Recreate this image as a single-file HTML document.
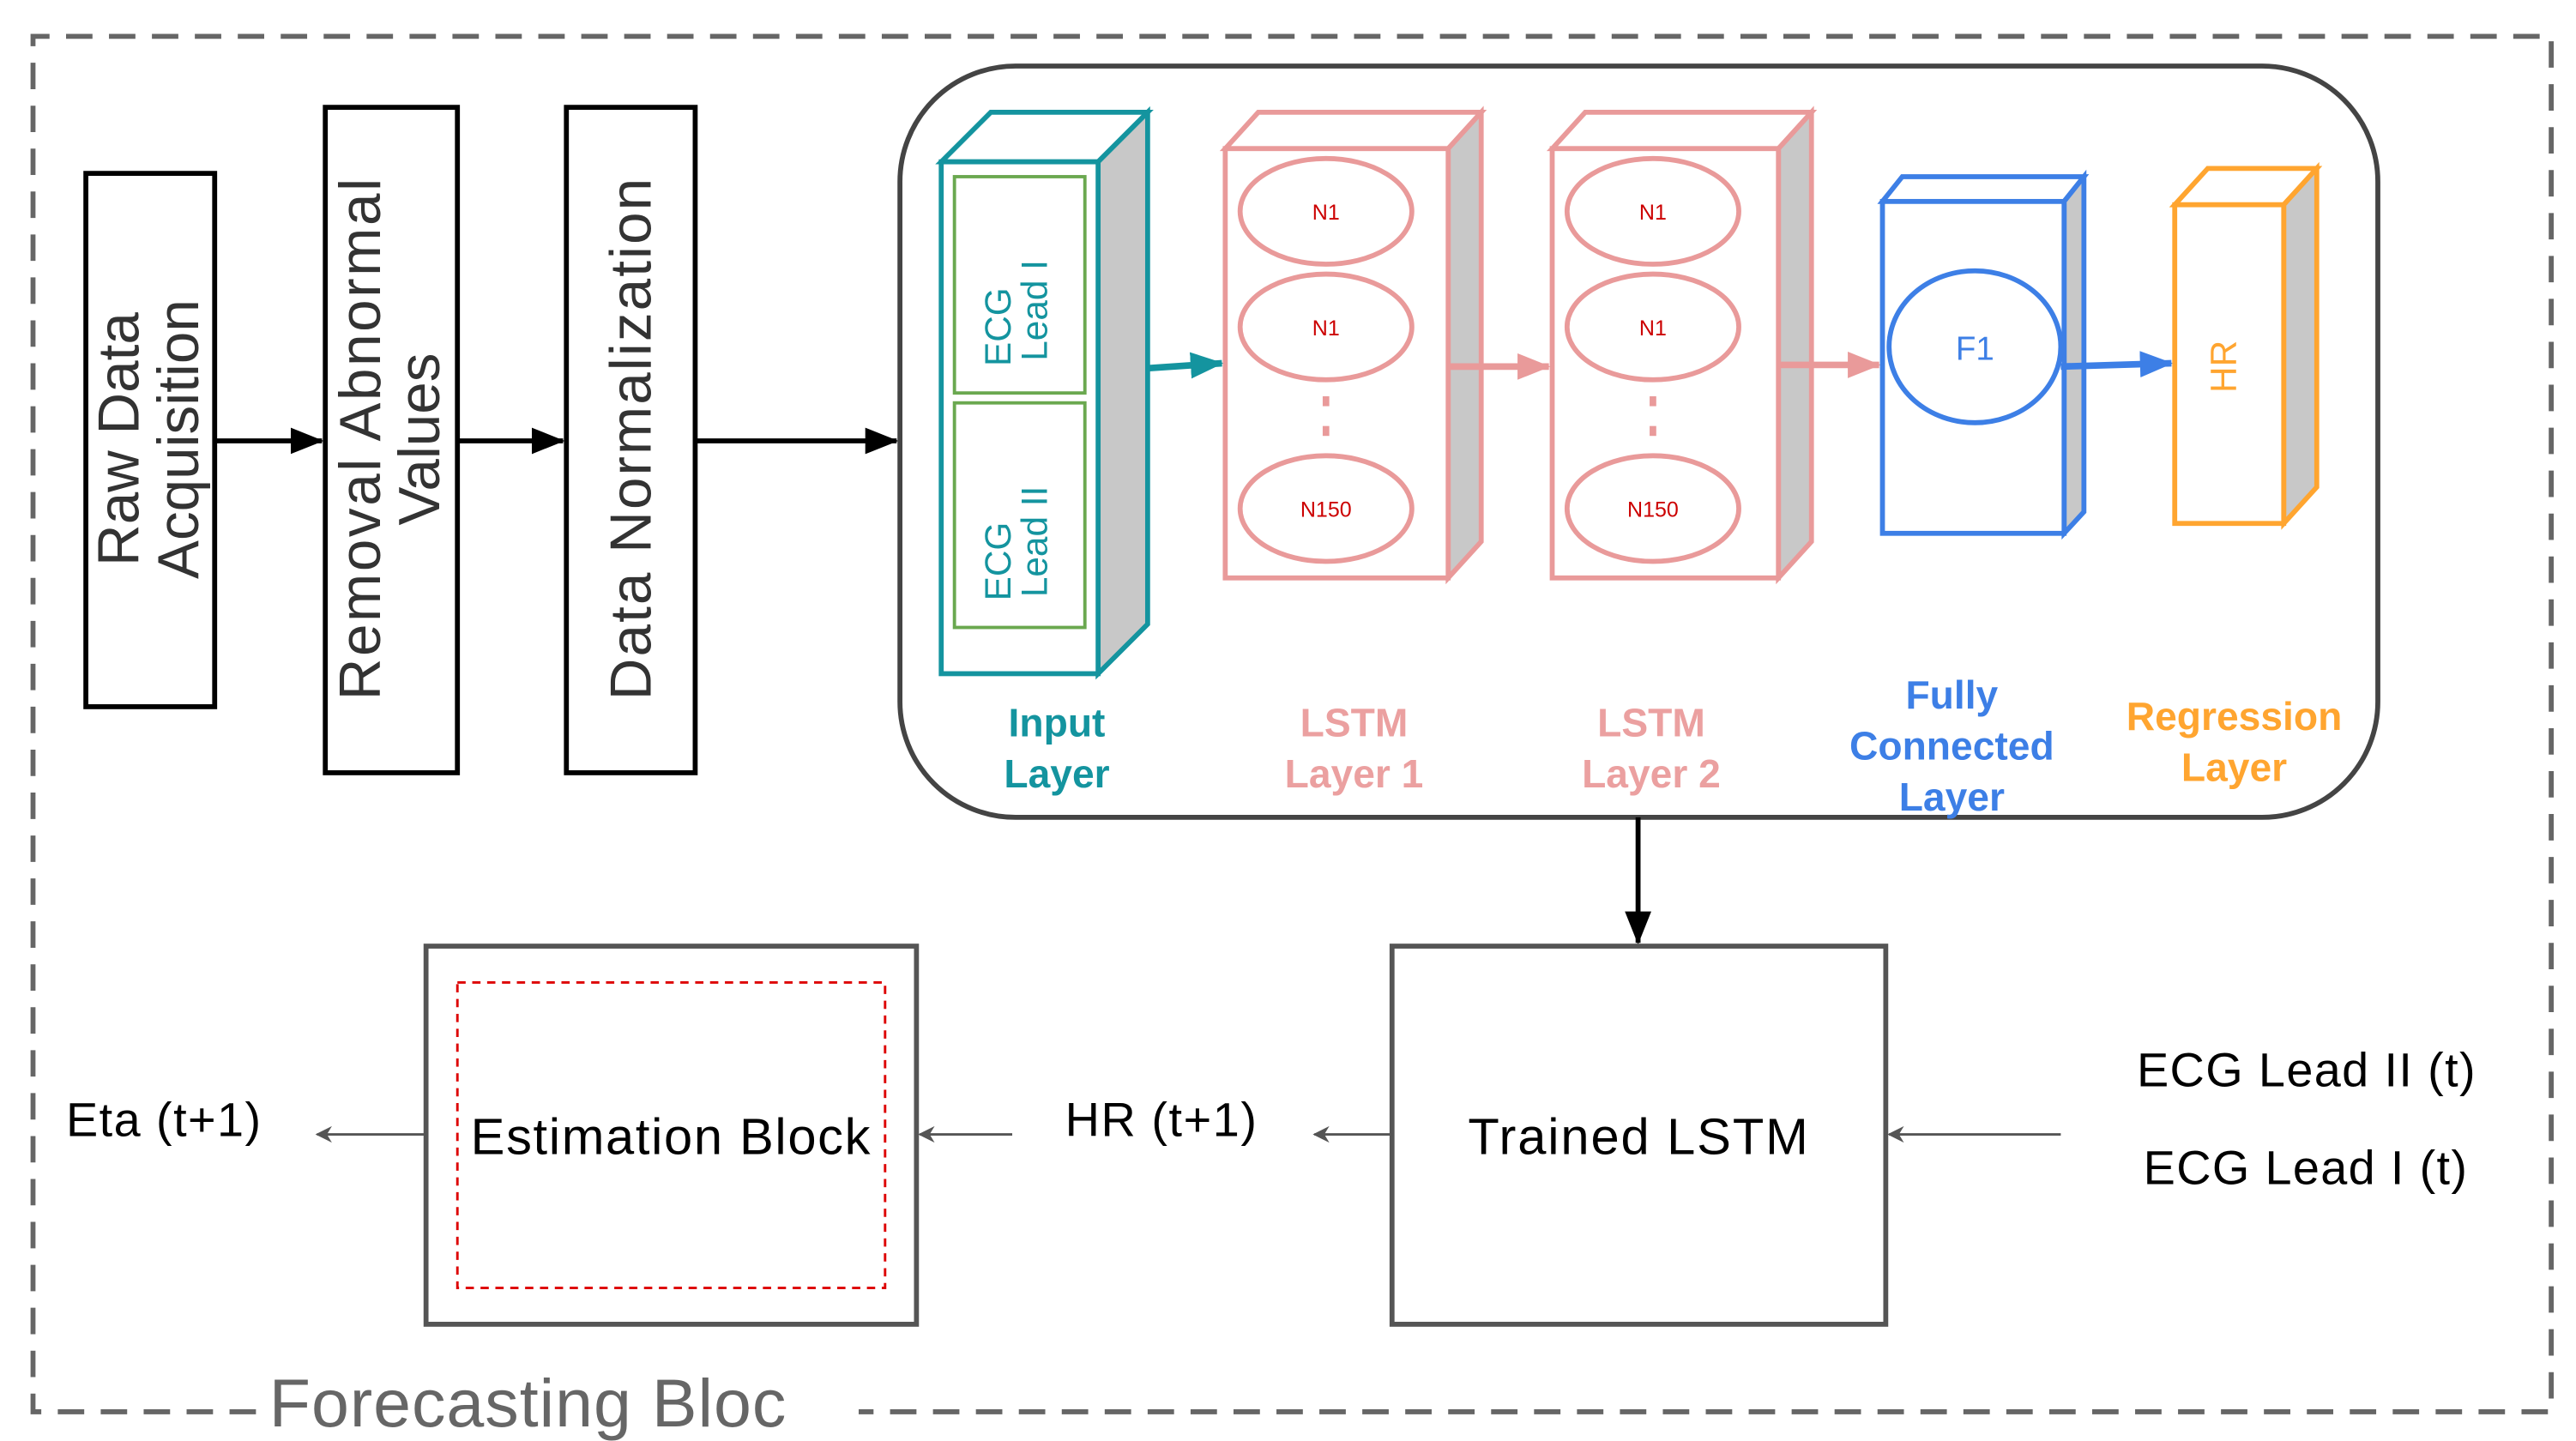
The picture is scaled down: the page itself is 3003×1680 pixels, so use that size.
<!DOCTYPE html>
<html><head><meta charset="utf-8"><style>html,body{margin:0;padding:0;background:#fff}svg{display:block}text{font-family:"Liberation Sans",sans-serif}</style></head>
<body>
<svg width="3003" height="1680" viewBox="0 0 1560 872.7" preserveAspectRatio="none" xmlns="http://www.w3.org/2000/svg">
<defs>
<marker id="ab2" markerWidth="20" markerHeight="16" refX="19" refY="8" orient="auto" markerUnits="userSpaceOnUse"><path d="M0,0 L20,8 L0,16z" fill="#000"/></marker>
<marker id="ag" markerWidth="10" markerHeight="10" refX="9" refY="5" orient="auto" markerUnits="userSpaceOnUse"><path d="M0,0 L10,5 L0,10 L3,5z" fill="#555"/></marker>
<marker id="at" markerWidth="20" markerHeight="16" refX="19" refY="8" orient="auto" markerUnits="userSpaceOnUse"><path d="M0,0 L20,8 L0,16z" fill="#14949f"/></marker>
<marker id="ap" markerWidth="20" markerHeight="16" refX="19" refY="8" orient="auto" markerUnits="userSpaceOnUse"><path d="M0,0 L20,8 L0,16z" fill="#e99a9a"/></marker>
<marker id="abl" markerWidth="20" markerHeight="16" refX="19" refY="8" orient="auto" markerUnits="userSpaceOnUse"><path d="M0,0 L20,8 L0,16z" fill="#3d7fe6"/></marker>
</defs>
<path d="M155,855 L20,855 L20,22 L1545,22 L1545,855 L520,855" fill="none" stroke="#666" stroke-width="3" stroke-dasharray="16,10"/>
<text x="163" y="864" font-size="41" fill="#666" textLength="313">Forecasting Bloc</text>
<rect x="52" y="105" width="78" height="323" fill="#fff" stroke="#000" stroke-width="3"/>
<rect x="197" y="65" width="80" height="403" fill="#fff" stroke="#000" stroke-width="3"/>
<rect x="343" y="65" width="78" height="403" fill="#fff" stroke="#000" stroke-width="3"/>
<g font-size="35" fill="#333">
<text transform="translate(84,266) rotate(-90)" text-anchor="middle">Raw Data</text>
<text transform="translate(120,266) rotate(-90)" text-anchor="middle">Acquisition</text>
<text transform="translate(230,266) rotate(-90)" text-anchor="middle" textLength="316">Removal Abnormal</text>
<text transform="translate(266,266) rotate(-90)" text-anchor="middle">Values</text>
<text transform="translate(394,266) rotate(-90)" text-anchor="middle" textLength="316">Data Normalization</text>
</g>
<g stroke="#000" stroke-width="3">
<line x1="130" y1="267" x2="195" y2="267" marker-end="url(#ab2)"/>
<line x1="277" y1="267" x2="341" y2="267" marker-end="url(#ab2)"/>
<line x1="421" y1="267" x2="543" y2="267" marker-end="url(#ab2)"/>
</g>
<rect x="545" y="40" width="895" height="455" rx="70" fill="none" stroke="#444" stroke-width="3"/>
<g stroke="#14949f" stroke-width="3">
<path d="M570,98 L600,68 L695,68 L665,98z" fill="#fff"/>
<path d="M665,98 L695,68 L695,378 L665,408z" fill="#c8c8c8"/>
<rect x="570" y="98" width="95" height="310" fill="#fff"/>
</g>
<rect x="578" y="107" width="79" height="131" fill="none" stroke="#6aa84f" stroke-width="2"/>
<rect x="578" y="244" width="79" height="136" fill="none" stroke="#6aa84f" stroke-width="2"/>
<g font-size="22" fill="#14949f">
<text transform="translate(612,198) rotate(-90)" text-anchor="middle">ECG</text>
<text transform="translate(634,188) rotate(-90)" text-anchor="middle">Lead I</text>
<text transform="translate(612,340) rotate(-90)" text-anchor="middle">ECG</text>
<text transform="translate(634,328) rotate(-90)" text-anchor="middle">Lead II</text>
</g>
<line x1="695" y1="223" x2="740" y2="220" stroke="#14949f" stroke-width="4" marker-end="url(#at)"/>
<g stroke="#e99a9a" stroke-width="3">
<path d="M742,90 L762,68 L897,68 L877,90z" fill="#fff"/>
<path d="M877,90 L897,68 L897,328 L877,350z" fill="#c8c8c8"/>
<rect x="742" y="90" width="135" height="260" fill="#fff"/>
<path d="M940,90 L960,68 L1097,68 L1077,90z" fill="#fff"/>
<path d="M1077,90 L1097,68 L1097,328 L1077,350z" fill="#c8c8c8"/>
<rect x="940" y="90" width="137" height="260" fill="#fff"/>
<g fill="none">
<ellipse cx="803" cy="128" rx="52" ry="32"/><ellipse cx="803" cy="198" rx="52" ry="32"/><ellipse cx="803" cy="308" rx="52" ry="32"/>
<ellipse cx="1001" cy="128" rx="52" ry="32"/><ellipse cx="1001" cy="198" rx="52" ry="32"/><ellipse cx="1001" cy="308" rx="52" ry="32"/>
</g>
</g>
<g fill="#e99a9a"><rect x="801" y="240" width="4" height="6"/><rect x="801" y="258" width="4" height="6"/><rect x="999" y="240" width="4" height="6"/><rect x="999" y="258" width="4" height="6"/></g>
<g font-size="13" fill="#cc0000" text-anchor="middle">
<text x="803" y="133">N1</text><text x="803" y="203">N1</text><text x="803" y="313">N150</text>
<text x="1001" y="133">N1</text><text x="1001" y="203">N1</text><text x="1001" y="313">N150</text>
</g>
<line x1="877" y1="222" x2="938" y2="222" stroke="#e99a9a" stroke-width="4" marker-end="url(#ap)"/>
<line x1="1077" y1="221" x2="1138" y2="221" stroke="#e99a9a" stroke-width="4" marker-end="url(#ap)"/>
<g stroke="#3d7fe6" stroke-width="3">
<path d="M1140,122 L1152,107 L1262,107 L1250,122z" fill="#fff"/>
<path d="M1250,122 L1262,107 L1262,310 L1250,323z" fill="#c8c8c8"/>
<rect x="1140" y="122" width="110" height="201" fill="#fff"/>
<ellipse cx="1196" cy="210" rx="52" ry="46" fill="#fff"/>
</g>
<text x="1196" y="218" font-size="20" fill="#3d7fe6" text-anchor="middle">F1</text>
<line x1="1248" y1="222" x2="1315" y2="220" stroke="#3d7fe6" stroke-width="4" marker-end="url(#abl)"/>
<g stroke="#ffa530" stroke-width="3">
<path d="M1317,124 L1337,102 L1403,102 L1383,124z" fill="#fff"/>
<path d="M1383,124 L1403,102 L1403,295 L1383,317z" fill="#c8c8c8"/>
<rect x="1317" y="124" width="66" height="193" fill="#fff"/>
</g>
<text transform="translate(1354,222) rotate(-90)" font-size="22" fill="#ffa530" text-anchor="middle">HR</text>
<g font-size="24" font-weight="bold" text-anchor="middle">
<text x="640" y="446" fill="#14949f">Input</text><text x="640" y="477" fill="#14949f">Layer</text>
<text x="820" y="446" fill="#eba0a0">LSTM</text><text x="820" y="477" fill="#eba0a0">Layer 1</text>
<text x="1000" y="446" fill="#eba0a0">LSTM</text><text x="1000" y="477" fill="#eba0a0">Layer 2</text>
<text x="1182" y="429" fill="#3d7fe6">Fully</text><text x="1182" y="460" fill="#3d7fe6">Connected</text><text x="1182" y="491" fill="#3d7fe6">Layer</text>
<text x="1353" y="442" fill="#ffa530">Regression</text><text x="1353" y="473" fill="#ffa530">Layer</text>
</g>
<line x1="992" y1="495" x2="992" y2="571" stroke="#000" stroke-width="3" marker-end="url(#ab2)"/>
<rect x="843" y="573" width="299" height="229" fill="#fff" stroke="#555" stroke-width="3"/>
<text x="992" y="699" font-size="31" text-anchor="middle" fill="#000" textLength="206">Trained LSTM</text>
<rect x="258" y="573" width="297" height="229" fill="#fff" stroke="#555" stroke-width="3"/>
<rect x="277" y="595" width="259" height="185" fill="none" stroke="#d00" stroke-width="1.5" stroke-dasharray="5,4"/>
<text x="406" y="699" font-size="31" text-anchor="middle" fill="#000" textLength="242">Estimation Block</text>
<g stroke="#555" stroke-width="1.5">
<line x1="258" y1="687" x2="192" y2="687" marker-end="url(#ag)"/>
<line x1="613" y1="687" x2="557" y2="687" marker-end="url(#ag)"/>
<line x1="843" y1="687" x2="796" y2="687" marker-end="url(#ag)"/>
<line x1="1248" y1="687" x2="1144" y2="687" marker-end="url(#ag)"/>
</g>
<g font-size="29" fill="#000">
<text x="40" y="688" textLength="118">Eta (t+1)</text>
<text x="645" y="688" textLength="116">HR (t+1)</text>
<text x="1294" y="658" textLength="205">ECG Lead II (t)</text>
<text x="1298" y="717" textLength="196">ECG Lead I (t)</text>
</g>
</svg>
</body></html>
